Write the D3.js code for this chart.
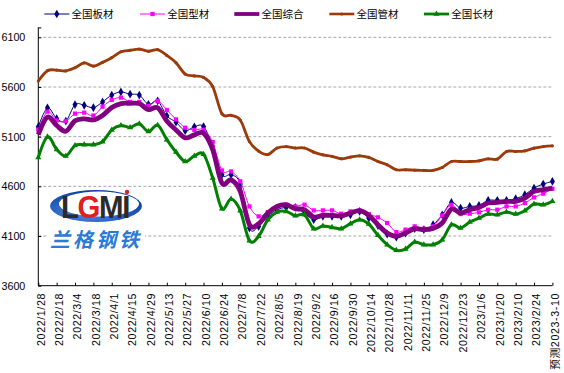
<!DOCTYPE html>
<html><head><meta charset="utf-8">
<script src="https://cdn.jsdelivr.net/npm/d3@7"></script>
<style>
html,body{margin:0;padding:0;background:#fff;}
svg{display:block;}
text{font-family:"Liberation Sans",Arial,"Noto Sans CJK SC",sans-serif;}
</style></head>
<body><svg id="chart" width="564" height="373"></svg>
<script>
const dates = ['2022/1/28','2022/2/11','2022/2/18','2022/2/25','2022/3/4','2022/3/11','2022/3/18','2022/3/25','2022/4/1','2022/4/8','2022/4/15','2022/4/22','2022/4/29','2022/5/6','2022/5/13','2022/5/20','2022/5/27','2022/6/2','2022/6/10','2022/6/17','2022/6/24','2022/7/1','2022/7/8','2022/7/15','2022/7/22','2022/7/29','2022/8/5','2022/8/12','2022/8/19','2022/8/26','2022/9/2','2022/9/9','2022/9/16','2022/9/23','2022/9/30','2022/10/9','2022/10/14','2022/10/21','2022/10/28','2022/11/4','2022/11/11','2022/11/18','2022/11/25','2022/12/2','2022/12/9','2022/12/16','2022/12/23','2022/12/30','2023/1/6','2023/1/13','2023/1/20','2023/2/3','2023/2/10','2023/2/17','2023/2/24','2023/3/3','预测2023-3-10'];

const plate = [5200,5390,5282,5257,5423,5416,5392,5450,5519,5550,5528,5519,5425,5460,5310,5246,5160,5200,5202,5001,4717,4717,4623,4180,4197,4298,4365,4388,4388,4331,4264,4298,4298,4298,4314,4348,4281,4204,4120,4090,4130,4174,4164,4214,4314,4438,4381,4398,4408,4459,4459,4459,4476,4516,4583,4623,4650];
const section = [5171,5352,5263,5258,5332,5342,5313,5402,5470,5493,5450,5450,5411,5461,5369,5274,5190,5168,5169,5045,4760,4750,4650,4398,4298,4341,4388,4415,4398,4415,4358,4358,4358,4325,4348,4355,4321,4288,4231,4140,4164,4197,4174,4197,4308,4415,4321,4325,4338,4365,4365,4398,4398,4432,4489,4526,4576];
const composite = [5120,5297,5213,5155,5260,5280,5269,5313,5394,5433,5436,5433,5372,5392,5258,5168,5088,5118,5135,4968,4633,4666,4549,4214,4224,4331,4398,4415,4375,4365,4291,4308,4308,4304,4331,4355,4308,4214,4130,4097,4130,4174,4164,4177,4231,4371,4331,4365,4388,4432,4438,4449,4449,4482,4549,4566,4583];
const pipe = [5660,5764,5770,5762,5794,5843,5810,5848,5895,5955,5970,5982,5960,5976,5918,5845,5730,5712,5696,5604,5330,5315,5268,5050,4955,4920,4986,5000,4986,4986,4944,4917,4902,4878,4895,4907,4891,4850,4817,4767,4767,4763,4760,4762,4790,4850,4850,4850,4857,4877,4874,4951,4951,4958,4984,5001,5008];
const longp = [4890,5098,4972,4906,5012,5020,5020,5050,5168,5213,5193,5230,5151,5216,5070,4945,4850,4906,4924,4683,4375,4472,4355,4053,4097,4264,4341,4348,4304,4314,4174,4201,4187,4174,4224,4264,4221,4107,4013,3956,3969,4040,4013,4013,4063,4214,4180,4241,4281,4321,4314,4341,4321,4355,4422,4415,4449];

const seriesNames = ['全国板材','全国型材','全国综合','全国管材','全国长材'];
const yTicks = [3600,4100,4600,5100,5600,6100];

const series = [
  {name:seriesNames[0], values:plate, color:'#000080', width:1, marker:'diamond', msize:22},
  {name:seriesNames[1], values:section, color:'#FF00FF', width:1, marker:'square', msize:18},
  {name:seriesNames[2], values:composite, color:'#800080', width:4.8, marker:null},
  {name:seriesNames[3], values:pipe, color:'#9C3A0A', width:2.8, marker:'circle', msize:8},
  {name:seriesNames[4], values:longp, color:'#008000', width:3, marker:'triangle', msize:16}
];

const svg = d3.select('#chart');
const x = d3.scalePoint().domain(dates).range([38.3, 552.4]);
const y = d3.scaleLinear().domain([3600, 6200]).range([285.7, 27.4]);

// gridlines
svg.append('g').selectAll('line').data(yTicks.slice(1)).join('line')
  .attr('x1', 38.3).attr('x2', 552.4)
  .attr('y1', d => y(d)).attr('y2', d => y(d))
  .attr('stroke', '#a6a6a6').attr('stroke-width', 1).attr('stroke-dasharray', '3,2');

// logo
const logo = svg.append('g');
logo.append('rect').attr('x', 48).attr('y', 188).attr('width', 97).attr('height', 62).attr('fill', '#fff');
const defs = svg.append('defs');
const grad = defs.append('radialGradient').attr('id','lg').attr('cx','40%').attr('cy','70%').attr('r','70%');
grad.append('stop').attr('offset','0%').attr('stop-color','#4f8fe8');
grad.append('stop').attr('offset','100%').attr('stop-color','#0b3f9e');
logo.append('ellipse').attr('cx', 96).attr('cy', 206).attr('rx', 46).attr('ry', 16).attr('fill', 'url(#lg)');
logo.append('ellipse').attr('cx', 99).attr('cy', 204).attr('rx', 40).attr('ry', 12.5).attr('fill', '#fff');
const lt = logo.append('text').attr('transform', 'translate(95,218) scale(0.95,1)').attr('text-anchor','middle')
  .attr('font-size', 31).attr('font-weight', 'bold').attr('font-family','"DejaVu Sans",sans-serif')
  .attr('fill', '#2b2b2b').attr('letter-spacing', -1.5);
lt.append('tspan').text('L');
lt.append('tspan').attr('fill', '#e02020').text('G');
lt.append('tspan').text('MI');
logo.append('circle').attr('cx', 127).attr('cy', 192).attr('r', 2.2).attr('fill', '#e02020');
logo.append('text').attr('x', 96).attr('y', 247).attr('text-anchor','middle')
  .attr('font-size', 20).attr('font-weight','bold').attr('fill', '#2a7ad8')
  .attr('font-style','italic').attr('letter-spacing', 3)
  .attr('font-family','"Noto Sans CJK SC",sans-serif').text('兰格钢铁');

// axes
const xAxis = d3.axisBottom(x).tickValues(dates.filter((d,i) => i % 2 === 0)).tickSize(-3).tickFormat('');
const gx = svg.append('g').attr('transform', 'translate(0,285.7)').call(xAxis);
gx.select('.domain').attr('stroke', '#000').attr('d', 'M38.3,0H552.4');
gx.selectAll('.tick line').attr('stroke', '#000');

svg.append('g').selectAll('text').data(dates.filter((d,i) => i % 2 === 0)).join('text')
  .attr('transform', d => `translate(${x(d) + 2.2},293) rotate(-90)`)
  .attr('text-anchor', 'end').attr('dominant-baseline', 'central')
  .attr('font-size', 10.7).attr('letter-spacing', 0.6).attr('fill', '#000')
  .text(d => d);

const yAxis = d3.axisLeft(y).tickValues(yTicks.concat([6200])).tickSize(-3).tickFormat(d => d === 6200 ? '' : d).tickPadding(13);
const gy = svg.append('g').attr('transform', 'translate(38.3,0)').call(yAxis);
gy.select('.domain').attr('stroke', '#000').attr('d', `M0,${y(6200)}V${y(3600)}`);
gy.selectAll('.tick line').attr('stroke', '#000');
gy.selectAll('.tick text').attr('font-size', 10.7).attr('fill', '#000')
  .attr('font-family', '"Liberation Sans",Arial,sans-serif');

// lines
const line = d3.line().x((d,i) => x(dates[i])).y(d => y(d)).curve(d3.curveCardinal.tension(0));

function drawMarker(g, type, cx, cy, size, color) {
  const sym = {diamond: d3.symbolDiamond, square: d3.symbolSquare, circle: d3.symbolCircle, triangle: d3.symbolTriangle}[type];
  g.append('path').attr('d', d3.symbol().type(sym).size(size)())
    .attr('transform', `translate(${cx},${cy})`).attr('fill', color);
}

series.forEach(s => {
  const g = svg.append('g');
  g.append('path').attr('d', line(s.values)).attr('fill', 'none')
    .attr('stroke', s.color).attr('stroke-width', s.width).attr('stroke-linejoin', 'round');
  if (s.marker) {
    s.values.forEach((v, i) => drawMarker(g, s.marker, x(dates[i]), y(v), s.msize, s.color));
  }
});

// legend
const legendX = [44.3, 140, 234.3, 329.3, 424];
const lw = [1, 1, 3.8, 2.6, 2.8];
series.forEach((s, k) => {
  const g = svg.append('g').attr('transform', `translate(${legendX[k]},14)`);
  g.append('line').attr('x1', 0).attr('x2', 25).attr('y1', 0).attr('y2', 0)
    .attr('stroke', s.color).attr('stroke-width', lw[k]);
  if (s.marker) drawMarker(g, s.marker, 12.5, 0, s.msize, s.color);
  g.append('text').attr('x', 27.3).attr('y', 0).attr('dominant-baseline', 'central')
    .attr('font-size', 10.5).attr('fill', '#000')
    .attr('font-family', '"Noto Sans CJK SC",sans-serif').text(s.name);
});
</script></body></html>
